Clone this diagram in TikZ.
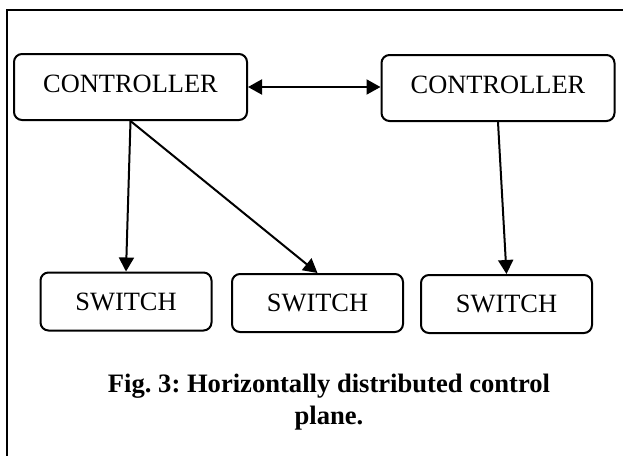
\documentclass[tikz,border=0pt]{standalone}
\usepackage{fontspec}
\setmainfont{Liberation Serif}
\usetikzlibrary{arrows.meta}

\tikzset{
    box/.style={draw, line width=1pt, rounded corners=4pt, inner sep=0pt,
                font=\fontsize{13.2}{16}\selectfont},
    ctrl/.style={box, minimum width=116.5pt, minimum height=33pt, text depth=3.5pt},
    sw/.style={box, minimum width=85.5pt, minimum height=29pt},
    link/.style={line width=1pt, -{Triangle[length=7pt,width=7.5pt]}}
}

\begin{document}
\frenchspacing
\begin{tikzpicture}[x=0.5pt, y=-0.5pt]
        \useasboundingbox (0,0) rectangle (623,456);
        \clip (0,0) rectangle (623,456);
        \draw[line width=1pt] (7,470) -- (7,10) -- (640,10);
        % controllers
        \node[ctrl] (c1) at (130.5,87) {CONTROLLER};
        \node[ctrl] (c2) at (498,88) {CONTROLLER};
        % switches
        \node[sw] (s1) at (126,301.5) {SWITCH};
        \node[sw] (s2) at (317.5,303) {SWITCH};
        \node[sw] (s3) at (506.5,304) {SWITCH};
        \draw[link, {Triangle[length=7pt,width=7.5pt]}-{Triangle[length=7pt,width=7.5pt]}] (c1.east) -- (c2.west |- c1.east);
        \draw[link] (c1.south) -- (s1.north);
        \draw[link] (c1.south) -- (s2.north);
        \draw[link] (c2.south) -- (s3.north);
        \node[align=center, font=\fontsize{13.3}{16}\selectfont\bfseries] (cap) at (329,402)
            {Fig. 3: Horizontally distributed control\\plane.};
    \end{tikzpicture}
\end{document}
